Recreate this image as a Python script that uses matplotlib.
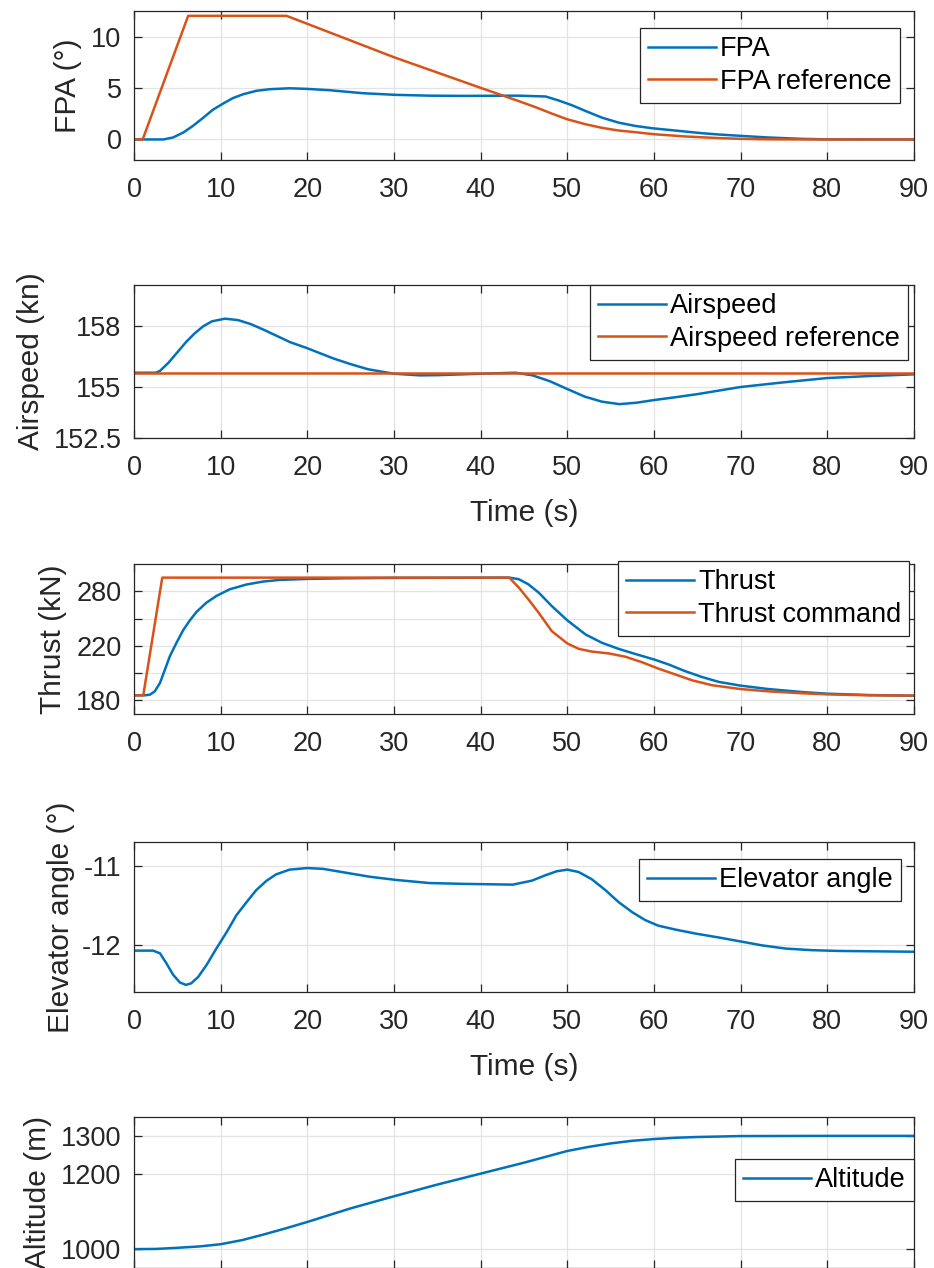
import numpy as np
import matplotlib
matplotlib.use("Agg")
import matplotlib.pyplot as plt

# values
t_fpa = [0, 3.4, 4.5, 5.7, 6.8, 8.0, 9.1, 10.3, 11.4, 12.6, 14.1, 15.65, 17.95, 20, 22.6, 26.4,
         30.2, 34.1, 37.9, 44.4, 47.5, 49, 50.5, 52.1, 54, 55.9, 57.8, 59.8, 61.7, 63.6, 65.5,
         67.5, 70, 73.2, 77, 80, 90]
fpa = [0, 0, 0.19, 0.68, 1.32, 2.12, 2.89, 3.5, 4.02, 4.4, 4.73, 4.89, 4.98, 4.92, 4.79, 4.5,
       4.34, 4.26, 4.24, 4.26, 4.18, 3.79, 3.34, 2.77, 2.12, 1.64, 1.32, 1.09, 0.93, 0.77, 0.61,
       0.48, 0.35, 0.19, 0.06, 0.01, 0]
t_fpa_ref = [0, 1.0, 6.25, 17.6, 30, 40, 44.4, 46.3, 48.2, 50, 52.1, 54, 55.9, 57.8, 60, 63.6,
             67.5, 70, 73.2, 80, 90]
fpa_ref = [0, 0, 12.03, 12.03, 8.0, 5.02, 3.73, 3.15, 2.52, 1.96, 1.48, 1.13, 0.87, 0.71, 0.51,
           0.29, 0.13, 0.06, 0.01, 0, 0]

t_spd = [0, 2.5, 3, 4, 5, 6, 7, 8, 9, 10.5, 12, 13.5, 15, 16.5, 18, 20, 21.5, 23, 25, 27, 30, 33,
         35, 40, 44, 46, 48, 50, 52, 54, 56, 58, 60, 62.5, 65, 70, 75, 80, 85, 90]
airspeed = [155.7, 155.7, 155.79, 156.2, 156.7, 157.2, 157.63, 157.98, 158.22, 158.35, 158.28,
            158.08, 157.8, 157.5, 157.2, 156.9, 156.65, 156.4, 156.12, 155.87, 155.65, 155.57,
            155.58, 155.65, 155.7, 155.57, 155.28, 154.9, 154.53, 154.28, 154.16, 154.23, 154.36,
            154.5, 154.65, 155.0, 155.23, 155.44, 155.54, 155.62]
t_spd_ref = [0, 90]
airspeed_ref = [155.7, 155.7]

t_thr = [0, 1.27, 1.84, 2.4, 3.0, 3.57, 4.14, 4.9, 5.68, 6.44, 7.2, 8.36, 9.5, 11.05, 12.96,
         14.9, 16.8, 20, 24.5, 30.2, 43.3, 44.4, 45.5, 46.7, 48.2, 50, 52.1, 54, 55.9, 57.8, 60,
         61.7, 63.6, 65.5, 67.5, 70, 73.2, 77.1, 80, 84.8, 90]
thrust = [183.7, 183.7, 184.2, 186.6, 192.8, 202.6, 212.4, 223.3, 237.3, 247.9, 257.2, 267.5,
          274.8, 282.2, 287.4, 290.7, 292.5, 293.6, 294.3, 294.7, 295, 293.3, 287.7, 278.5,
          263.8, 248, 232.5, 223.3, 217.8, 214.1, 210, 206.3, 201.4, 197.2, 193.5, 190.8, 188.3,
          186.1, 184.9, 183.9, 183.4]
t_cmd = [0, 1.07, 3.26, 43.3, 44.4, 45.5, 46.7, 48.2, 50, 51.3, 52.8, 54.8, 56.7, 58.6, 60.5,
         62.5, 64.4, 66.7, 70, 73.2, 77.1, 80, 84.8, 90]
thrust_cmd = [183.7, 183.7, 295, 295, 284.1, 271.2, 256.3, 236.2, 222.6, 217.8, 215.8, 214.4,
              212, 208, 203.3, 198.9, 194.7, 191.1, 188.3, 186.6, 185.2, 184.4, 183.7, 183.5]

t_elev = [0, 2.2, 3.0, 3.76, 4.5, 5.3, 6.0, 6.6, 7.4, 8.36, 9.5, 10.7, 11.8, 13, 14.1, 15.3, 16.4,
          17.95, 20, 21.8, 24.5, 27.2, 30.2, 34.1, 37.9, 43.7, 45.9, 47.5, 48.8, 50, 51.3, 52.8,
          54.4, 55.9, 57.5, 59, 60.5, 62.5, 64.8, 67.5, 70, 72.5, 75.2, 78.2, 81.3, 90]
elevator = [-12.076, -12.076, -12.11, -12.24, -12.38, -12.48, -12.51, -12.49, -12.41, -12.26,
            -12.05, -11.84, -11.63, -11.46, -11.31, -11.19, -11.11, -11.05, -11.03, -11.04,
            -11.09, -11.14, -11.18, -11.22, -11.23, -11.24, -11.19, -11.12, -11.07, -11.05,
            -11.08, -11.17, -11.31, -11.46, -11.59, -11.69, -11.76, -11.81, -11.86, -11.91,
            -11.96, -12.01, -12.05, -12.07, -12.08, -12.09]

t_alt = [0, 2.5, 5, 7.5, 10, 12.5, 15, 17.5, 20, 25, 30, 35, 40, 45, 50, 52.5, 55, 57.5, 60,
         62.5, 65, 70, 80, 90]
altitude = [1000, 1000.5, 1003.5, 1007, 1013, 1024, 1039, 1055, 1072, 1108, 1140, 1171, 1200,
            1229, 1260, 1271, 1280, 1287, 1291.6, 1295, 1297, 1299.5, 1300, 1300]

blue = "#0072BD"
orange = "#D95319"
dark = "#262626"

plt.rcParams["font.family"] = ["Liberation Sans", "DejaVu Sans"]
plt.rcParams["font.size"] = 19.5
label_size = 21.5

fig = plt.figure(figsize=(9.34, 12.68), dpi=100)
H = 1268.0
W = 934.0


def make_ax(top, bottom):
    return fig.add_axes([134 / W, 1 - bottom / H, 780 / W, (bottom - top) / H])


def style(ax):
    ax.set_xlim(0, 90)
    ax.set_xticks(np.arange(0, 91, 10))
    ax.tick_params(direction="in", length=6, width=0.9, top=True, right=True,
                   colors=dark, labelcolor=dark, pad=12)
    ax.tick_params(axis="y", pad=9)
    ax.grid(True, color="#e3e3e3", linewidth=0.9)
    ax.set_axisbelow(True)
    for s in ax.spines.values():
        s.set_color(dark)
        s.set_linewidth(0.9)


def legend(ax, x, y):
    leg = ax.legend(loc="upper right", bbox_to_anchor=(x, y), fancybox=False, framealpha=1,
                    edgecolor=dark, handlelength=2.5, handletextpad=0.15,
                    borderpad=0.3, labelspacing=0.25, borderaxespad=0, fontsize=19.5)
    leg.get_frame().set_linewidth(0.9)


def ylab(ax, text, x):
    ax.set_ylabel(text, fontsize=label_size, color=dark)
    ax.yaxis.set_label_coords(x, 0.5)


lw = 1.8

# FPA
ax1 = make_ax(11, 160)
ax1.plot(t_fpa, fpa, color=blue, lw=lw, label="FPA")
ax1.plot(t_fpa_ref, fpa_ref, color=orange, lw=lw, label="FPA reference")
style(ax1)
ax1.set_ylim(-2, 12.5)
ax1.set_yticks([0, 5, 10])
ylab(ax1, "FPA (°)", -0.067)
legend(ax1, 0.982, 0.886)

# Airspeed
ax2 = make_ax(285, 438)
ax2.plot(t_spd, airspeed, color=blue, lw=lw, label="Airspeed")
ax2.plot(t_spd_ref, airspeed_ref, color=orange, lw=lw, label="Airspeed reference")
style(ax2)
ax2.set_ylim(152.5, 160)
ax2.set_yticks([152.5, 155, 158])
ax2.set_yticklabels(["152.5", "155", "158"])
ylab(ax2, "Airspeed (kn)", -0.114)
ax2.set_xlabel("Time (s)", fontsize=label_size, color=dark, labelpad=13)
legend(ax2, 0.992, 1.0)


# Thrust: tick labels 180/220/280 sit on evenly spaced grid lines
def thr_fwd(v):
    v = np.asarray(v, dtype=float)
    return np.where(v <= 220, (v - 180) / 20.0, 2 + (v - 220) / 30.0)


def thr_inv(u):
    u = np.asarray(u, dtype=float)
    return np.where(u <= 2, 180 + 20 * u, 220 + 30 * (u - 2))


ax3 = make_ax(564, 714)
ax3.set_yscale("function", functions=(thr_fwd, thr_inv))
ax3.plot(t_thr, thrust, color=blue, lw=lw, label="Thrust")
ax3.plot(t_cmd, thrust_cmd, color=orange, lw=lw, label="Thrust command")
style(ax3)
ax3.set_ylim(170, 310)
ax3.set_yticks([180, 200, 220, 250, 280])
ax3.set_yticklabels(["180", "", "220", "", "280"])
ax3.yaxis.set_minor_locator(matplotlib.ticker.NullLocator())
ylab(ax3, "Thrust (kN)", -0.086)
legend(ax3, 0.994, 1.02)

# Elevator
ax4 = make_ax(842, 992)
ax4.plot(t_elev, elevator, color=blue, lw=lw, label="Elevator angle")
style(ax4)
ax4.set_ylim(-12.6, -10.7)
ax4.set_yticks([-12, -11])
ax4.set_yticklabels(["-12", "-11"])
ylab(ax4, "Elevator angle (°)", -0.076)
ax4.set_xlabel("Time (s)", fontsize=label_size, color=dark, labelpad=13)
legend(ax4, 0.983, 0.887)

# Altitude (bottom of this panel is cut off in the reference)
ax5 = make_ax(1117, 1268)
ax5.plot(t_alt, altitude, color=blue, lw=lw, label="Altitude")
style(ax5)
ax5.tick_params(axis="x", labelbottom=False)
ax5.set_ylim(950, 1350)
ax5.set_yticks([1000, 1200, 1300])
ylab(ax5, "Altitude (m)", -0.105)
legend(ax5, 1.0, 0.722)

fig.savefig("out.png", dpi=100)
